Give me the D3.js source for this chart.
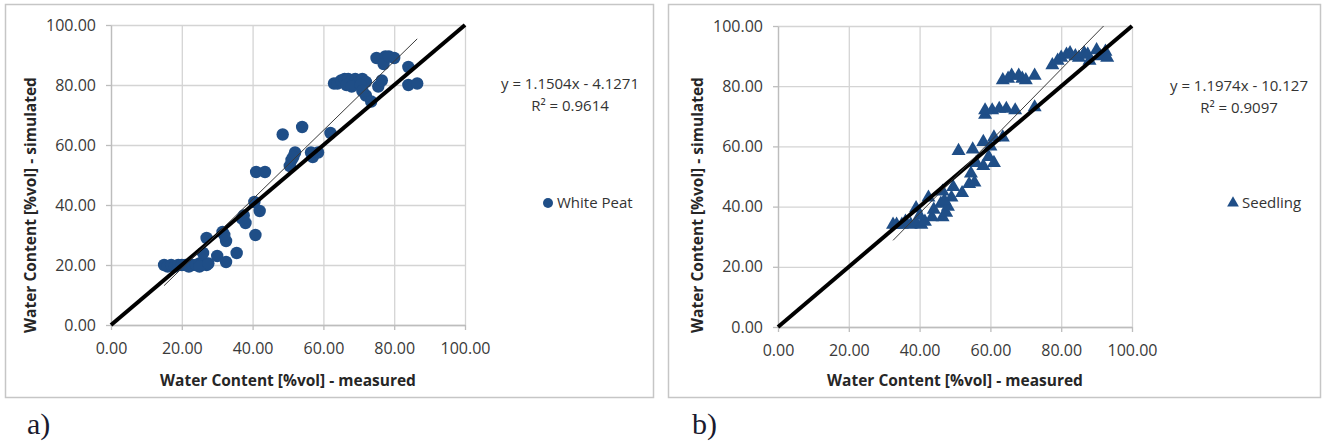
<!DOCTYPE html>
<html>
<head>
<meta charset="utf-8">
<script src="https://cdn.jsdelivr.net/npm/d3@7"></script>
<style>
  html, body { margin: 0; padding: 0; background: #fff; }
  svg { display: block; }
</style>
</head>
<body>
<svg id="fig" width="1323" height="444"></svg>
<script>
// Axis ticks shared by both panels (water content, %vol)
const axisTicks = [0, 20, 40, 60, 80, 100];

// Panel a) White Peat: measured vs simulated water content
const peatMeasured = [
  15, 16, 17, 18, 19, 20, 21, 22, 23, 24, 25, 26, 27, 25, 27.5,
  26, 27, 30, 32.5, 35.5, 31.5, 32.5, 32,
  37.5, 38, 37, 40.5, 42, 40.8, 41, 43.5,
  48.5, 54, 51, 52, 50.5, 51.5, 57, 58.5, 56.5, 62,
  63, 64, 65, 66, 67, 68, 69, 70, 71, 72, 66.5, 68, 70.5,
  72, 73.5, 71, 75.5, 76.5, 75, 77.5, 80, 77, 78.5, 84, 84, 86.5
];
const peatSimulated = [
  20, 19.5, 20, 19.5, 20, 20, 20, 19.5, 20, 20, 20.5, 21, 20, 19.5, 20.5,
  24, 29, 23, 21, 24, 31, 28, 30,
  36.5, 34, 35.5, 41, 38, 30, 51, 51,
  63.5, 66, 55, 57.5, 53, 56, 56, 57.5, 57.5, 64,
  80.5, 80.5, 81.5, 82, 82, 81.5, 82, 81, 82, 81, 80, 79.5, 80,
  76.5, 74.5, 78, 79.5, 81.5, 89, 89.5, 89, 87, 89.5, 86, 80, 80.5
];

// Panel b) Seedling: measured vs simulated water content
const seedlingMeasured = [
  32.5, 33.5, 35, 36, 37.5, 39, 40.5, 41.5, 39, 40, 42.5, 43.5, 44, 46, 46.5, 47.5, 48, 49, 46.5, 47,
  49.5, 52, 54, 55.5, 54.5, 56, 58, 61, 59.5, 51, 55, 58, 61, 63.5, 60,
  58.5, 58.5, 60.5, 62.5, 64.5, 67, 72.5,
  63.5, 65, 66, 68, 69, 70, 72.5,
  77.5, 79, 80, 81.5, 82.5, 84, 85, 86.5, 88, 87.5, 90, 91, 92.5, 93
];
const seedlingSimulated = [
  34, 34, 34, 35, 34, 34.5, 34, 35, 39.5, 37, 43, 36.5, 39, 41, 36.5, 38, 40, 43, 45, 42,
  46.5, 44.5, 47.5, 48, 51, 54.5, 53.5, 54.5, 56.5, 58.5, 59, 61.5, 63, 63, 60,
  70.5, 72, 72, 72.5, 72.5, 72, 73,
  82, 82.5, 83.5, 83.5, 82.5, 82, 83.5,
  87, 88.5, 89.5, 90.5, 91, 90, 89.5, 91, 88.5, 90.5, 92, 90, 91.5, 89.5
];

// Linear trend lines reported on each panel
const seriesNames = ["White Peat", "Seedling"];
const fitSlopes = [1.1504, 1.1974];
const fitIntercepts = [-4.1271, -10.127];
const fitR2 = ["0.9614", "0.9097"];
const panelLetters = ["a)", "b)"];

const svg = d3.select("#fig");
const markerColor = "#1f4e87";
const sans = "'Open Sans', 'Liberation Sans', sans-serif";

const panels = [
  { box: [5.5, 4.5, 648, 393], plot: [111, 465, 25, 325], eqX: 570, eqY: 89, legX: 548, legY: 203,
    letterX: 27, xs: peatMeasured, ys: peatSimulated, shape: "circle" },
  { box: [668.5, 4.5, 652, 393], plot: [778, 1132, 26, 327], eqX: 1239, eqY: 91, legX: 1233, legY: 203,
    letterX: 692, xs: seedlingMeasured, ys: seedlingSimulated, shape: "triangle" }
];

panels.forEach((p, i) => {
  const [x0, x1, yTop, yBot] = p.plot;
  const x = d3.scaleLinear().domain([0, 100]).range([x0, x1]);
  const y = d3.scaleLinear().domain([0, 100]).range([yBot, yTop]);
  const g = svg.append("g");

  // chart frame
  g.append("rect")
    .attr("x", p.box[0]).attr("y", p.box[1])
    .attr("width", p.box[2]).attr("height", p.box[3])
    .attr("fill", "none").attr("stroke", "#c6c6c6").attr("stroke-width", 1.5);

  // gridlines
  g.append("g").attr("transform", `translate(0,${yBot})`)
    .call(d3.axisBottom(x).tickValues(axisTicks).tickSize(-(yBot - yTop)).tickFormat(""))
    .call(s => s.select(".domain").remove())
    .call(s => s.selectAll("line").attr("stroke", "#d4d4d4").attr("stroke-width", 1.3));
  g.append("g").attr("transform", `translate(${x0},0)`)
    .call(d3.axisLeft(y).tickValues(axisTicks).tickSize(-(x1 - x0)).tickFormat(""))
    .call(s => s.select(".domain").remove())
    .call(s => s.selectAll("line").attr("stroke", "#d4d4d4").attr("stroke-width", 1.3));

  // axes with tick labels
  const fmt = d3.format(".2f");
  g.append("g").attr("transform", `translate(0,${yBot})`)
    .call(d3.axisBottom(x).tickValues(axisTicks).tickSize(5).tickSizeOuter(0).tickPadding(13).tickFormat(fmt))
    .call(s => s.select(".domain").attr("stroke", "#bdbdbd").attr("stroke-width", 1.3))
    .call(s => s.selectAll("line").attr("stroke", "#bdbdbd").attr("stroke-width", 1.3))
    .call(s => s.selectAll("text").style("fill", "#3a3a3a").style("font-size", "16px")
      .style("font-family", sans));
  g.append("g").attr("transform", `translate(${x0},0)`)
    .call(d3.axisLeft(y).tickValues(axisTicks).tickSize(5).tickSizeOuter(0).tickPadding(10).tickFormat(fmt))
    .call(s => s.select(".domain").attr("stroke", "#bdbdbd").attr("stroke-width", 1.3))
    .call(s => s.selectAll("line").attr("stroke", "#bdbdbd").attr("stroke-width", 1.3))
    .call(s => s.selectAll("text").style("fill", "#3a3a3a").style("font-size", "16px")
      .style("font-family", sans));

  // axis titles
  g.append("text")
    .attr("x", (x0 + x1) / 2).attr("y", 386)
    .attr("text-anchor", "middle")
    .style("font-family", sans).style("font-size", "15.5px").style("font-weight", "bold")
    .style("fill", "#262626")
    .text("Water Content [%vol] - measured");
  g.append("text")
    .attr("transform", `translate(${x0 - 75},205) rotate(-90)`)
    .attr("text-anchor", "middle")
    .style("font-family", sans).style("font-size", "15.5px").style("font-weight", "bold")
    .style("fill", "#262626")
    .text("Water Content [%vol] - simulated");

  // data markers
  const pts = p.xs.map((v, k) => [v, p.ys[k]]);
  const plotArea = g.append("g");
  if (p.shape === "circle") {
    plotArea.selectAll("circle").data(pts).join("circle")
      .attr("cx", d => x(d[0])).attr("cy", d => y(d[1])).attr("r", 6.2)
      .attr("fill", markerColor);
  } else {
    const tri = d3.symbol().type(d3.symbolTriangle).size(85);
    plotArea.selectAll("path").data(pts).join("path")
      .attr("d", tri)
      .attr("transform", d => `translate(${x(d[0])},${y(d[1])})`)
      .attr("fill", markerColor);
  }

  // 1:1 reference line
  g.append("line")
    .attr("x1", x(0)).attr("y1", y(0)).attr("x2", x(100)).attr("y2", y(100))
    .attr("stroke", "#000").attr("stroke-width", 4);

  // linear trend line over the measured range, clipped to the plot area
  const [xmin, xmax] = d3.extent(p.xs);
  const slope = fitSlopes[i], icpt = fitIntercepts[i];
  const xEnd = Math.min(xmax, (100 - icpt) / slope);
  g.append("line")
    .attr("x1", x(xmin)).attr("y1", y(slope * xmin + icpt))
    .attr("x2", x(xEnd)).attr("y2", y(slope * xEnd + icpt))
    .attr("stroke", "#3a3a3a").attr("stroke-width", 1);

  // equation label
  g.append("text")
    .attr("x", p.eqX).attr("y", p.eqY).attr("text-anchor", "middle")
    .style("font-family", sans).style("font-size", "15px").style("fill", "#333")
    .text(`y = ${slope}x - ${Math.abs(icpt)}`);
  g.append("text")
    .attr("x", p.eqX).attr("y", p.eqY + 22).attr("text-anchor", "middle")
    .style("font-family", sans).style("font-size", "15px").style("fill", "#333")
    .text(`R\u00B2 = ${fitR2[i]}`);

  // legend
  if (p.shape === "circle") {
    g.append("circle").attr("cx", p.legX).attr("cy", p.legY).attr("r", 5).attr("fill", markerColor);
  } else {
    g.append("path").attr("d", d3.symbol().type(d3.symbolTriangle).size(60))
      .attr("transform", `translate(${p.legX},${p.legY})`).attr("fill", markerColor);
  }
  g.append("text")
    .attr("x", p.legX + 9).attr("y", p.legY + 5)
    .style("font-family", sans).style("font-size", "15px").style("fill", "#333")
    .text(seriesNames[i]);

  // panel letter
  svg.append("text")
    .attr("x", p.letterX).attr("y", 434)
    .style("font-family", "'Liberation Serif', 'DejaVu Serif', serif")
    .style("font-size", "30px").style("fill", "#1a1a2e")
    .text(panelLetters[i]);
});
</script>
</body>
</html>
